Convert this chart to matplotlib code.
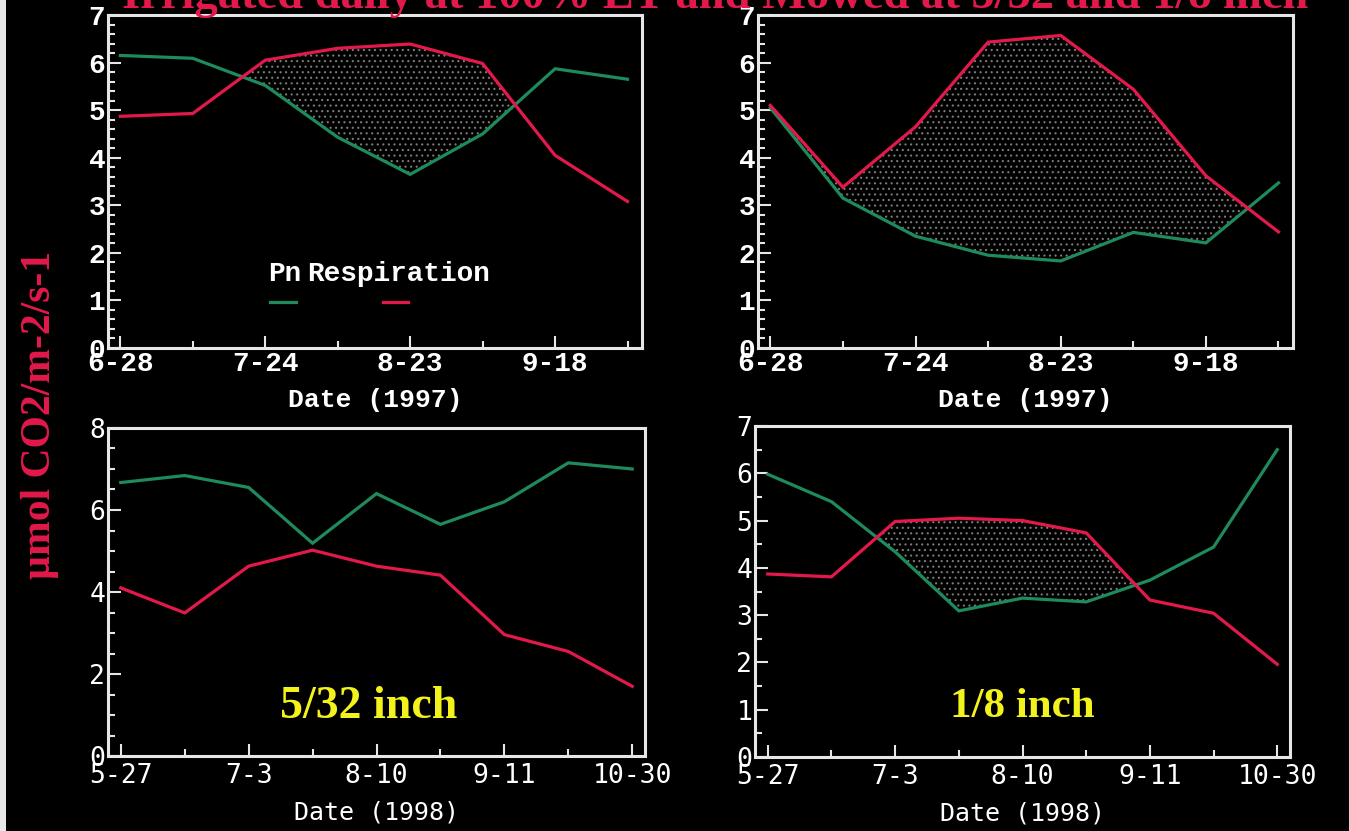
import matplotlib.pyplot as plt
from matplotlib.ticker import MultipleLocator, FixedLocator
from matplotlib.patches import Rectangle

# --- data ---
dates_1997 = ['6-28', '', '7-24', '', '8-23', '', '9-18', '']
pn_ca_1997 = [6.15, 6.09, 5.52, 4.43, 3.65, 4.50, 5.87, 5.65]
resp_ca_1997 = [4.87, 4.93, 6.05, 6.30, 6.39, 5.98, 4.05, 3.08]
pn_eb_1997 = [5.05, 3.15, 2.35, 1.95, 1.83, 2.43, 2.21, 3.47]
resp_eb_1997 = [5.10, 3.38, 4.65, 6.43, 6.57, 5.44, 3.62, 2.44]

dates_1998 = ['5-27', '', '7-3', '', '8-10', '', '9-11', '', '10-30']
pn_532 = [6.67, 6.84, 6.55, 5.19, 6.40, 5.65, 6.20, 7.15, 7.00]
resp_532 = [4.10, 3.49, 4.63, 5.02, 4.63, 4.41, 2.96, 2.55, 1.70]
pn_18 = [5.98, 5.40, 4.34, 3.09, 3.36, 3.28, 3.74, 4.44, 6.50]
resp_18 = [3.87, 3.81, 4.98, 5.05, 5.00, 4.74, 3.32, 3.04, 1.96]

RED = '#e3194b'
GREEN = '#1f8a5c'
YELLOW = '#f2f21c'

plt.rcParams['font.family'] = ['Liberation Mono', 'DejaVu Sans Mono']
plt.rcParams['hatch.linewidth'] = 0.8

fig = plt.figure(figsize=(13.49, 8.31), dpi=100, facecolor='black')
# thin light strip on the left edge
fig.patches.append(Rectangle((0, 0), 6 / 1349, 1, transform=fig.transFigure,
                             facecolor='#e8e8e8', edgecolor='none'))

boxes = [
    [108 / 1349, 1 - 348 / 831, 534 / 1349, 333 / 831],
    [758 / 1349, 1 - 348 / 831, 535 / 1349, 333 / 831],
    [108 / 1349, 1 - 756 / 831, 537 / 1349, 328 / 831],
    [755 / 1349, 1 - 757 / 831, 535 / 1349, 331 / 831],
]
panels = [
    (dates_1997, pn_ca_1997, resp_ca_1997, 7, 0.2, 'Date (1997)', 'Liberation Mono', 'bold', 20, 19, 2),
    (dates_1997, pn_eb_1997, resp_eb_1997, 7, 0.2, 'Date (1997)', 'Liberation Mono', 'bold', 20, 19, 2),
    (dates_1998, pn_532, resp_532, 8, 0.5, 'Date (1998)', 'DejaVu Sans Mono', 'normal', 19, 18, 5),
    (dates_1998, pn_18, resp_18, 7, 0.5, 'Date (1998)', 'DejaVu Sans Mono', 'normal', 19, 18, 5),
]

axes = []
for box, (labels, pn, resp, ymax, yminor, xlab, tfont, tweight, tsize, lsize, xpad) in zip(boxes, panels):
    ax = fig.add_axes(box)
    ax.set_facecolor('black')
    x = list(range(len(labels)))
    if len(labels) == 8:
        ax.set_xlim(-0.17, 7.2)
    else:
        ax.set_xlim(-0.2, 8.2)
    ax.set_ylim(0, ymax)

    ax.fill_between(x, pn, resp, where=[r > p for r, p in zip(resp, pn)],
                    interpolate=True, facecolor='none', edgecolor='#7a7a7a',
                    hatch='...', linewidth=0)
    ax.plot(x, pn, color=GREEN, lw=2.3, solid_joinstyle='miter')
    ax.plot(x, resp, color=RED, lw=2.3, solid_joinstyle='miter')

    major = [i for i, l in enumerate(labels) if l]
    minor = [i for i, l in enumerate(labels) if not l]
    ax.xaxis.set_major_locator(FixedLocator(major))
    ax.xaxis.set_minor_locator(FixedLocator(minor))
    ax.set_xticklabels([labels[i] for i in major])
    ax.yaxis.set_major_locator(MultipleLocator(1 if ymax == 7 else 2))
    ax.yaxis.set_minor_locator(MultipleLocator(yminor))

    for s in ax.spines.values():
        s.set_color('#e6e6e6')
        s.set_linewidth(2.2)
    ax.tick_params(which='both', direction='in', colors='#e6e6e6',
                   labelcolor='white', labelsize=tsize, width=1.5)
    ax.tick_params(which='major', length=9, pad=2)
    ax.tick_params(axis='x', which='major', pad=xpad)
    ax.tick_params(which='minor', length=5)
    for t in ax.get_xticklabels() + ax.get_yticklabels():
        t.set_fontfamily(tfont)
        t.set_fontweight(tweight)
    ax.set_xlabel(xlab, color='white', fontsize=lsize, fontfamily=tfont,
                  fontweight=tweight, labelpad=8)
    axes.append(ax)

# legend in the first panel
ax = axes[0]
ax.text(0.30, 0.20, 'Pn', transform=ax.transAxes, color='white', fontsize=20,
        fontweight='bold', va='baseline', ha='left')
ax.text(0.372, 0.20, 'Respiration', transform=ax.transAxes, color='white',
        fontsize=20, fontweight='bold', va='baseline', ha='left')
ax.plot([0.303, 0.352], [0.138, 0.138], transform=ax.transAxes, color=GREEN, lw=2.3)
ax.plot([0.515, 0.562], [0.138, 0.138], transform=ax.transAxes, color=RED, lw=2.3)

axes[2].text(0.486, 0.15, '5/32 inch', transform=axes[2].transAxes, color=YELLOW,
             fontsize=33, fontweight='bold', family='Liberation Serif', ha='center', va='center')
axes[3].text(0.5, 0.15, '1/8 inch', transform=axes[3].transAxes, color=YELLOW,
             fontsize=31, fontweight='bold', family='Liberation Serif', ha='center', va='center')

fig.text(0.53, 1 - 8 / 831, 'Irrigated daily at 100% ET and Mowed at 5/32 and 1/8 inch',
         color=RED, fontsize=33.5, fontweight='bold', family='Liberation Serif',
         ha='center', va='baseline')
fig.text(40 / 1349, 1 - 415 / 831, 'µmol CO2/m-2/s-1', color=RED, fontsize=30,
         fontweight='bold', family='Liberation Serif', rotation=90,
         ha='center', va='center')

fig.savefig('out.png', dpi=100, facecolor='black')
